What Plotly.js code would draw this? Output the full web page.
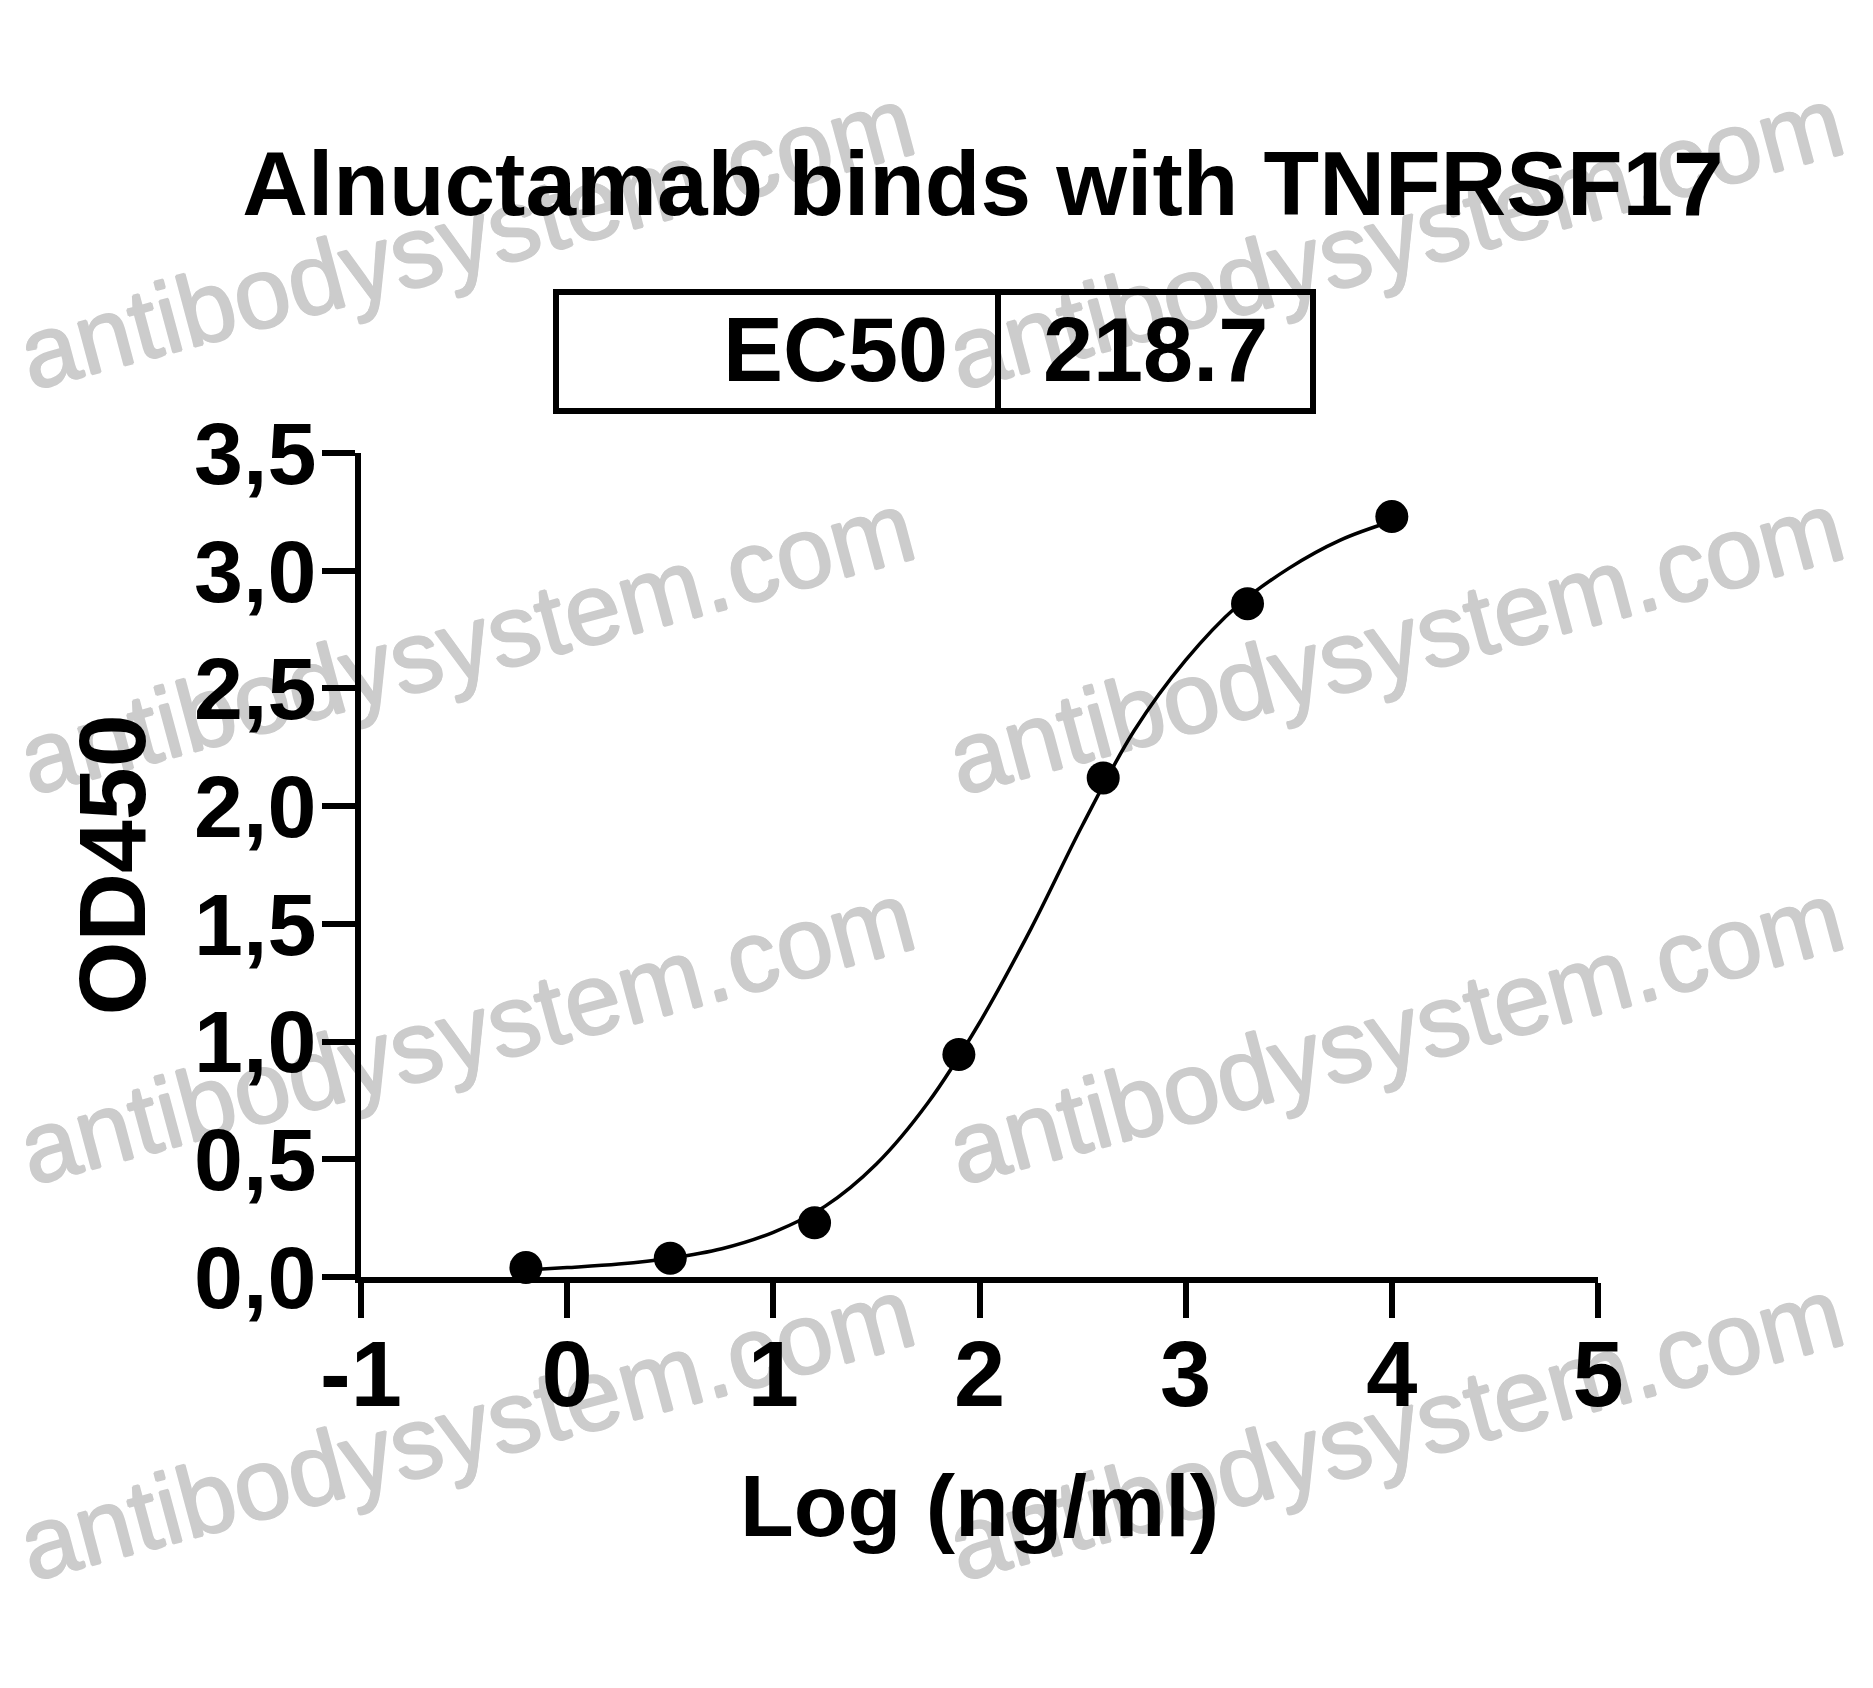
<!DOCTYPE html>
<html>
<head>
<meta charset="utf-8">
<script src="https://cdn.plot.ly/plotly-3.0.1.min.js"></script>
<style>
  html, body { margin: 0; padding: 0; background: #ffffff; }
  #chart { width: 1873px; height: 1688px; }
</style>
</head>
<body>
<div id="chart"></div>
<script>
// ---------- data ----------
const chartTitle = "Alnuctamab binds with TNFRSF17";
const xAxisTitle = "Log (ng/ml)";
const yAxisTitle = "OD450";
const ec50Label = "EC50";
const ec50Value = "218.7";

// measured points: log concentration vs OD450
const pointX = [-0.2, 0.5, 1.2, 1.9, 2.6, 3.3, 4.0];
const pointY = [0.04, 0.08, 0.23, 0.945, 2.12, 2.86, 3.23];

// fitted curve
const curveX = [-0.2, 0, 0.25, 0.5, 0.75, 1.0, 1.25, 1.5, 1.75, 2.0, 2.25, 2.5, 2.75, 3.0, 3.25, 3.5, 3.75, 4.0];
const curveY = [0.03, 0.04, 0.055, 0.08, 0.12, 0.19, 0.30, 0.48, 0.74, 1.08, 1.48, 1.92, 2.32, 2.62, 2.85, 3.01, 3.13, 3.21];

// tick values and labels
const xTickVals = [-1, 0, 1, 2, 3, 4, 5];
const xTickText = ["-1", "0", "1", "2", "3", "4", "5"];
const yTickVals = [0, 0.5, 1.0, 1.5, 2.0, 2.5, 3.0, 3.5];
const yTickText = ["0,0", "0,5", "1,0", "1,5", "2,0", "2,5", "3,0", "3,5"];

const watermarkText = "antibodysystem.com";

// ---------- layout geometry (pixels) ----------
const W = 1873, H = 1688;
const M = { l: 361, r: 275, t: 453, b: 411 };
const PW = W - M.l - M.r, PH = H - M.t - M.b;
const px2x = p => (p - M.l) / PW;
const py2y = p => 1 - (p - M.t) / PH;

const bold = "Liberation Sans, Arial, sans-serif";
const narrow = "Liberation Sans Narrow, Arial Narrow, Liberation Sans, Arial, sans-serif";

const traces = [
  {
    x: curveX, y: curveY, type: "scatter", mode: "lines",
    line: { color: "#000000", width: 3.5, shape: "spline", smoothing: 1 },
    hoverinfo: "skip", showlegend: false
  },
  {
    x: pointX, y: pointY, type: "scatter", mode: "markers",
    marker: { color: "#000000", size: 33, symbol: "circle", line: { width: 0 } },
    showlegend: false, cliponaxis: false
  }
];

// watermarks (below everything)
const wmColor = "#cccccc";
const wmCentersX = [464, 1393];
const wmCentersY = [228, 633, 1023, 1419];
const shapes = [];
wmCentersX.forEach(cx => wmCentersY.forEach(cy => {
  shapes.push({
    type: "rect", xref: "paper", yref: "paper", layer: "below",
    x0: px2x(cx - 470), x1: px2x(cx + 470), y0: py2y(cy + 120), y1: py2y(cy - 120),
    line: { width: 0, color: "rgba(0,0,0,0)" }, fillcolor: "rgba(0,0,0,0)",
    label: { text: watermarkText, textangle: -15, textposition: "middle center",
             font: { family: "Liberation Sans, Arial, sans-serif", size: 101, color: wmColor,
                     shadow: "1px 0 0 " + wmColor + ", -1px 0 0 " + wmColor + ", 0 1px 0 " + wmColor + ", 0 -1px 0 " + wmColor } }
  });
}));

// EC50 box
const box = { x0: 556, x1: 1313, y0: 292, y1: 411, div: 998 };
shapes.push({
  type: "rect", xref: "paper", yref: "paper", layer: "above",
  x0: px2x(box.x0), x1: px2x(box.x1), y0: py2y(box.y1), y1: py2y(box.y0),
  line: { width: 6, color: "#000000" }, fillcolor: "rgba(0,0,0,0)"
});
shapes.push({
  type: "line", xref: "paper", yref: "paper", layer: "above",
  x0: px2x(box.div), x1: px2x(box.div), y0: py2y(box.y1), y1: py2y(box.y0),
  line: { width: 6, color: "#000000" }
});

const annotations = [
  { text: ec50Label, xref: "paper", yref: "paper", x: px2x(950), y: py2y(350),
    xanchor: "right", yanchor: "middle", showarrow: false,
    font: { family: bold, size: 90, color: "#000000", weight: "bold" } },
  { text: ec50Value, xref: "paper", yref: "paper", x: px2x(1041), y: py2y(350),
    xanchor: "left", yanchor: "middle", showarrow: false,
    font: { family: bold, size: 90, color: "#000000", weight: "bold" } }
];

const layout = {
  width: W, height: H,
  margin: M,
  paper_bgcolor: "#ffffff",
  plot_bgcolor: "rgba(0,0,0,0)",
  showlegend: false,
  title: {
    text: chartTitle,
    x: 983 / W, xanchor: "center", xref: "container",
    y: 1 - 183 / H, yanchor: "middle", yref: "container",
    font: { family: bold, size: 91, color: "#000000", weight: "bold" }
  },
  xaxis: {
    range: [-1, 5], tickmode: "array", tickvals: xTickVals, ticktext: xTickText,
    showgrid: false, zeroline: false,
    showline: true, linecolor: "#000000", linewidth: 6,
    ticks: "outside", ticklen: 35, tickwidth: 6, tickcolor: "#000000",
    ticklabelstandoff: -22,
    tickfont: { family: narrow, size: 92, color: "#000000", weight: "bold" },
    title: { text: xAxisTitle, standoff: 52,
             font: { family: bold, size: 88, color: "#000000", weight: "bold" } },
    fixedrange: true
  },
  yaxis: {
    range: [0, 3.5], tickmode: "array", tickvals: yTickVals, ticktext: yTickText,
    showgrid: false, zeroline: false,
    showline: true, linecolor: "#000000", linewidth: 6,
    ticks: "outside", ticklen: 33, tickwidth: 6, tickcolor: "#000000",
    ticklabelstandoff: -12,
    tickfont: { family: bold, size: 88, color: "#000000", weight: "bold" },
    title: { text: yAxisTitle, standoff: 19,
             font: { family: bold, size: 95, color: "#000000", weight: "bold" } },
    fixedrange: true
  },
  shapes: shapes,
  annotations: annotations
};

Plotly.newPlot("chart", traces, layout, { staticPlot: true, displayModeBar: false });
</script>
</body>
</html>
